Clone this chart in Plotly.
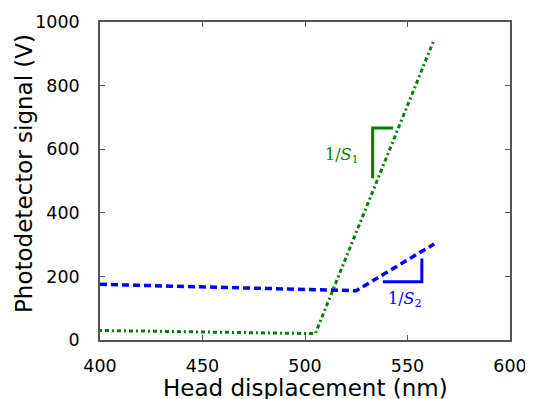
import plotly.graph_objects as go

# data
green_x = [400, 505, 563]
green_y = [30, 20, 945]
blue_x = [400, 525, 563]
blue_y = [175, 155, 302]
tri1_x = [533, 533, 543]
tri1_y = [509, 667, 667]
tri2_x = [538, 557, 557]
tri2_y = [183, 183, 256]
x_ticks = [400, 450, 500, 550, 600]
y_ticks = [0, 200, 400, 600, 800, 1000]

GREEN = "#008000"
BLUE = "#0000ff"

fig = go.Figure()
fig.add_trace(go.Scatter(x=green_x, y=green_y, mode="lines",
                         line=dict(color=GREEN, width=3, dash="2px,3px,4px,3px")))
fig.add_trace(go.Scatter(x=blue_x, y=blue_y, mode="lines",
                         line=dict(color=BLUE, width=3.5, dash="7px,4px")))
fig.add_trace(go.Scatter(x=tri1_x, y=tri1_y, mode="lines",
                         line=dict(color=GREEN, width=3)))
fig.add_trace(go.Scatter(x=tri2_x, y=tri2_y, mode="lines",
                         line=dict(color=BLUE, width=3)))

fig.add_annotation(x=518, y=580, text="1/<i>S</i><sub>1</sub>", showarrow=False,
                   font=dict(family="DejaVu Serif", size=16, color=GREEN))
fig.add_annotation(x=549, y=128, text="1/<i>S</i><sub>2</sub>", showarrow=False,
                   font=dict(family="DejaVu Serif", size=16, color=BLUE))

# axis titles
fig.add_annotation(x=0.5, y=0, xref="paper", yref="paper", yshift=-48, showarrow=False,
                   text="Head displacement (nm)", yanchor="middle",
                   font=dict(family="DejaVu Sans", size=23, color="black"))
fig.add_annotation(x=0, y=0.5, xref="paper", yref="paper", xshift=-76, yshift=7, showarrow=False,
                   text="Photodetector signal (V)", textangle=-90, xanchor="center",
                   font=dict(family="DejaVu Sans", size=23, color="black"))

axis_common = dict(showgrid=False, zeroline=False, showline=True, linecolor="#555555",
                   linewidth=1.5, mirror="ticks", ticks="inside", ticklen=5, automargin=False,
                   tickcolor="#555555", tickfont=dict(family="DejaVu Sans", size=17.5, color="black"))
fig.update_xaxes(range=[400, 600], tickvals=x_ticks, ticklabelstandoff=9, **axis_common)
fig.update_yaxes(range=[0, 1000], tickvals=y_ticks, ticklabelstandoff=15, **axis_common)
fig.update_layout(width=525, height=391, showlegend=False,
                  plot_bgcolor="white", paper_bgcolor="white",
                  margin=dict(l=92, r=23, t=14, b=59))
fig.write_html("out.html")
